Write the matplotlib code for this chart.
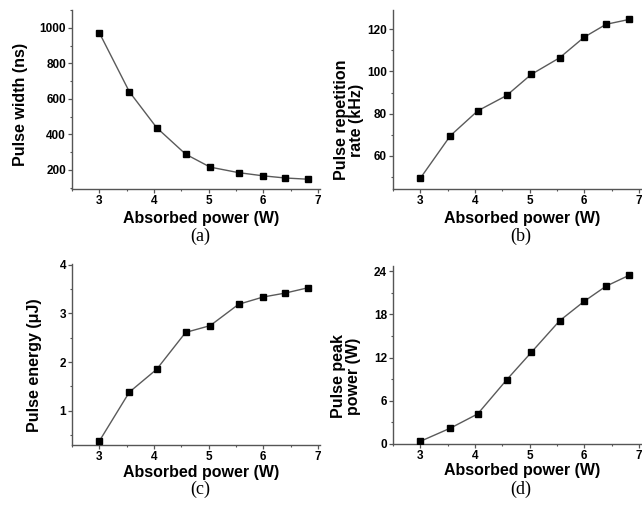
import matplotlib
matplotlib.use("Agg")
import matplotlib.pyplot as plt
from matplotlib.ticker import MultipleLocator

plt.rcParams['font.family'] = ['Liberation Sans', 'DejaVu Sans']

# Absorbed pump power (W)
absorbed_power = [3.0, 3.55, 4.05, 4.58, 5.03, 5.55, 6.0, 6.4, 6.82]

# Q-switched pulse characteristics
pulse_width_ns = [972, 640, 438, 289, 216, 185, 167, 155, 148]
rep_rate_khz = [49.3, 69.5, 81.3, 88.6, 98.6, 106.5, 116.3, 122.4, 124.7]
pulse_energy_uj = [0.37, 1.38, 1.85, 2.61, 2.75, 3.19, 3.34, 3.42, 3.53]
peak_power_w = [0.37, 2.2, 4.17, 8.9, 12.7, 17.1, 19.8, 21.9, 23.4]

ylabels = ["Pulse width (ns)", "Pulse repetition\nrate (kHz)",
           "Pulse energy (\u03bcJ)", "Pulse peak\npower (W)"]
panel_tags = ["(a)", "(b)", "(c)", "(d)"]
xlabel = "Absorbed power (W)"

W, H = 642, 507
fig = plt.figure(figsize=(W / 100, H / 100), dpi=100)

# axes boxes in pixels: left, top, right, bottom
boxes = [(72, 10, 320, 189), (393, 10, 641, 189),
         (72, 264, 320, 445), (393, 266, 641, 444)]
ylims = [(93, 1100), (44.2, 129.2), (0.29, 4.02), (0, 24.7)]
yticks = [[200, 400, 600, 800, 1000], [60, 80, 100, 120],
          [1, 2, 3, 4], [0, 6, 12, 18, 24]]
yminor = [100, 10, 0.5, 3]
ylabel_pos = [(-0.177, 0.47), (-0.117, 0.385), (-0.121, 0.44), (-0.13, 0.38)]
xlabel_y = [-0.122, -0.122, -0.108, -0.108]
series = [pulse_width_ns, rep_rate_khz, pulse_energy_uj, peak_power_w]
tag_pos = [(200, 236), (521, 236), (200, 489), (521, 489)]

spine_col = "#555555"
for i in range(4):
    l, t, r, b = boxes[i]
    ax = fig.add_axes([l / W, 1 - b / H, (r - l) / W, (b - t) / H])
    ax.plot(absorbed_power, series[i], color="#5a5a5a", lw=1.0,
            marker="s", ms=4.6, mfc="black", mec="black", zorder=3)
    ax.set_xlim(2.5, 7.04)
    ax.set_ylim(*ylims[i])
    ax.set_xticks([3, 4, 5, 6, 7])
    ax.set_yticks(yticks[i])
    ax.xaxis.set_minor_locator(MultipleLocator(0.5))
    ax.yaxis.set_minor_locator(MultipleLocator(yminor[i]))
    for s in ("top", "right"):
        ax.spines[s].set_visible(False)
    for s in ("left", "bottom"):
        ax.spines[s].set_color(spine_col)
        ax.spines[s].set_linewidth(1.0)
    ax.tick_params(which="major", direction="out", length=2.8, width=0.9,
                   color=spine_col, labelsize=8.5, pad=1.5)
    ax.tick_params(which="minor", direction="out", length=1.6, width=0.8,
                   color=spine_col)
    for lab in ax.get_xticklabels() + ax.get_yticklabels():
        lab.set_fontweight("bold")
    ax.set_xlabel(xlabel, fontsize=11.5, fontweight="bold")
    ax.xaxis.set_label_coords(0.52, xlabel_y[i])
    ax.set_ylabel(ylabels[i], fontsize=11.5, fontweight="bold",
                  linespacing=1.0, ha="center", multialignment="center")
    ax.yaxis.set_label_coords(*ylabel_pos[i])
    tx, ty = tag_pos[i]
    fig.text(tx / W, 1 - ty / H, panel_tags[i], ha="center", va="center",
             fontsize=13, family="Liberation Serif")

fig.savefig("out.png", dpi=100)
